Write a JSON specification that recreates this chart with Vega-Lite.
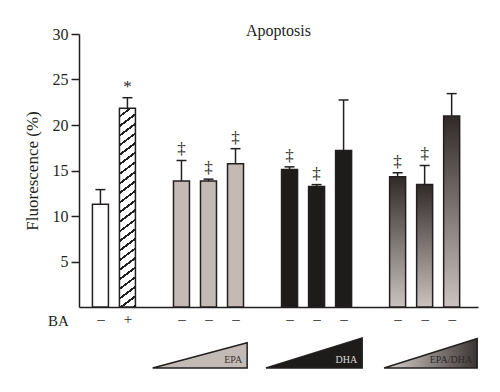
{
  "$schema": "https://vega.github.io/schema/vega-lite/v6.json",
  "background": "white",
  "padding": {"left": 23, "top": 23, "right": 5, "bottom": 5},
  "spacing": 8,
  "config": {
    "view": {"stroke": null},
    "font": "Liberation Serif",
    "axisY": {
      "tickSize": 8, "tickWidth": 1.5, "tickColor": "#231f20",
      "domainColor": "#231f20", "domainWidth": 1.5,
      "labelFontSize": 16, "labelColor": "#231f20", "labelPadding": 3,
      "titleFontSize": 17, "titleFontWeight": "normal", "titleColor": "#231f20", "titlePadding": 11,
      "grid": false
    }
  },
  "datasets": {
    "bars": [
      {"grp": "ctrl", "slot": 0, "mean": 11.3, "upper": 12.9, "sig": ""},
      {"grp": "ba", "slot": 1, "mean": 21.85, "upper": 23.0, "sig": "*"},
      {"grp": "EPA", "slot": 3, "mean": 13.85, "upper": 16.1, "sig": "‡"},
      {"grp": "EPA", "slot": 4, "mean": 13.85, "upper": 14.05, "sig": "‡"},
      {"grp": "EPA", "slot": 5, "mean": 15.75, "upper": 17.4, "sig": "‡"},
      {"grp": "DHA", "slot": 7, "mean": 15.1, "upper": 15.4, "sig": "‡"},
      {"grp": "DHA", "slot": 8, "mean": 13.25, "upper": 13.45, "sig": "‡"},
      {"grp": "DHA", "slot": 9, "mean": 17.2, "upper": 22.75, "sig": ""},
      {"grp": "EPA/DHA", "slot": 11, "mean": 14.3, "upper": 14.75, "sig": "‡"},
      {"grp": "EPA/DHA", "slot": 12, "mean": 13.45, "upper": 15.55, "sig": "‡"},
      {"grp": "EPA/DHA", "slot": 13, "mean": 21.0, "upper": 23.45, "sig": ""}
    ],
    "tri": [
      {"tri": "EPA", "x": 2.05, "h": 0},
      {"tri": "EPA", "x": 5.46, "h": 0.84},
      {"tri": "DHA", "x": 6.14, "h": 0},
      {"tri": "DHA", "x": 9.61, "h": 1},
      {"tri": "EPA/DHA", "x": 10.4, "h": 0},
      {"tri": "EPA/DHA", "x": 13.76, "h": 0.98}
    ]
  },
  "vconcat": [
    {
      "width": 399,
      "height": 273,
      "title": {"text": "Apoptosis", "fontSize": 16, "fontWeight": "normal", "color": "#231f20", "offset": -13, "frame": "group", "anchor": "middle"},
      "data": {"name": "bars"},
      "encoding": {
        "x": {
          "field": "slot", "type": "quantitative",
          "scale": {"domain": [-0.608, 13.79], "nice": false, "zero": false},
          "axis": {
            "values": [0, 1, 3, 4, 5, 7, 8, 9, 11, 12, 13],
            "labelExpr": "datum.value == 1 ? '+' : '–'",
            "ticks": false, "grid": false, "labelFlush": false, "labelOverlap": false,
            "labelFontSize": 15, "labelColor": "#231f20", "labelPadding": 4,
            "domainColor": "#231f20", "domainWidth": 1.5,
            "title": "BA", "titleAngle": 0, "titleX": -21, "titleY": 13,
            "titleAlign": "center", "titleBaseline": "middle",
            "titleFontSize": 15, "titleFontWeight": "normal", "titleColor": "#231f20"
          }
        }
      },
      "layer": [
        {
          "transform": [{"filter": "datum.grp == 'ctrl'"}],
          "mark": {"type": "bar", "size": 16, "fill": "#ffffff", "stroke": "#231f20", "strokeWidth": 1.5},
          "encoding": {"y": {"field": "mean", "type": "quantitative", "title": "Fluorescence (%)", "scale": {"domain": [0, 30], "nice": false}, "axis": {"values": [5, 10, 15, 20, 25, 30]}}}
        },
        {
          "transform": [{"filter": "datum.grp == 'ba'"}],
          "mark": {"type": "bar", "size": 16, "stroke": "#231f20", "strokeWidth": 1.5,
            "fill": {"gradient": "linear", "x1": 0, "y1": 0, "x2": 0.0637, "y2": 1.0565, "stops": [
              {"offset": 0, "color": "#ffffff"}, {"offset": 0.03409, "color": "#ffffff"}, {"offset": 0.03409, "color": "#231f20"}, {"offset": 0.04545, "color": "#231f20"},
              {"offset": 0.04545, "color": "#ffffff"}, {"offset": 0.07955, "color": "#ffffff"}, {"offset": 0.07955, "color": "#231f20"}, {"offset": 0.09091, "color": "#231f20"},
              {"offset": 0.09091, "color": "#ffffff"}, {"offset": 0.125, "color": "#ffffff"}, {"offset": 0.125, "color": "#231f20"}, {"offset": 0.13636, "color": "#231f20"},
              {"offset": 0.13636, "color": "#ffffff"}, {"offset": 0.17045, "color": "#ffffff"}, {"offset": 0.17045, "color": "#231f20"}, {"offset": 0.18182, "color": "#231f20"},
              {"offset": 0.18182, "color": "#ffffff"}, {"offset": 0.21591, "color": "#ffffff"}, {"offset": 0.21591, "color": "#231f20"}, {"offset": 0.22727, "color": "#231f20"},
              {"offset": 0.22727, "color": "#ffffff"}, {"offset": 0.26136, "color": "#ffffff"}, {"offset": 0.26136, "color": "#231f20"}, {"offset": 0.27273, "color": "#231f20"},
              {"offset": 0.27273, "color": "#ffffff"}, {"offset": 0.30682, "color": "#ffffff"}, {"offset": 0.30682, "color": "#231f20"}, {"offset": 0.31818, "color": "#231f20"},
              {"offset": 0.31818, "color": "#ffffff"}, {"offset": 0.35227, "color": "#ffffff"}, {"offset": 0.35227, "color": "#231f20"}, {"offset": 0.36364, "color": "#231f20"},
              {"offset": 0.36364, "color": "#ffffff"}, {"offset": 0.39773, "color": "#ffffff"}, {"offset": 0.39773, "color": "#231f20"}, {"offset": 0.40909, "color": "#231f20"},
              {"offset": 0.40909, "color": "#ffffff"}, {"offset": 0.44318, "color": "#ffffff"}, {"offset": 0.44318, "color": "#231f20"}, {"offset": 0.45455, "color": "#231f20"},
              {"offset": 0.45455, "color": "#ffffff"}, {"offset": 0.48864, "color": "#ffffff"}, {"offset": 0.48864, "color": "#231f20"}, {"offset": 0.5, "color": "#231f20"},
              {"offset": 0.5, "color": "#ffffff"}, {"offset": 0.53409, "color": "#ffffff"}, {"offset": 0.53409, "color": "#231f20"}, {"offset": 0.54545, "color": "#231f20"},
              {"offset": 0.54545, "color": "#ffffff"}, {"offset": 0.57955, "color": "#ffffff"}, {"offset": 0.57955, "color": "#231f20"}, {"offset": 0.59091, "color": "#231f20"},
              {"offset": 0.59091, "color": "#ffffff"}, {"offset": 0.625, "color": "#ffffff"}, {"offset": 0.625, "color": "#231f20"}, {"offset": 0.63636, "color": "#231f20"},
              {"offset": 0.63636, "color": "#ffffff"}, {"offset": 0.67045, "color": "#ffffff"}, {"offset": 0.67045, "color": "#231f20"}, {"offset": 0.68182, "color": "#231f20"},
              {"offset": 0.68182, "color": "#ffffff"}, {"offset": 0.71591, "color": "#ffffff"}, {"offset": 0.71591, "color": "#231f20"}, {"offset": 0.72727, "color": "#231f20"},
              {"offset": 0.72727, "color": "#ffffff"}, {"offset": 0.76136, "color": "#ffffff"}, {"offset": 0.76136, "color": "#231f20"}, {"offset": 0.77273, "color": "#231f20"},
              {"offset": 0.77273, "color": "#ffffff"}, {"offset": 0.80682, "color": "#ffffff"}, {"offset": 0.80682, "color": "#231f20"}, {"offset": 0.81818, "color": "#231f20"},
              {"offset": 0.81818, "color": "#ffffff"}, {"offset": 0.85227, "color": "#ffffff"}, {"offset": 0.85227, "color": "#231f20"}, {"offset": 0.86364, "color": "#231f20"},
              {"offset": 0.86364, "color": "#ffffff"}, {"offset": 0.89773, "color": "#ffffff"}, {"offset": 0.89773, "color": "#231f20"}, {"offset": 0.90909, "color": "#231f20"},
              {"offset": 0.90909, "color": "#ffffff"}, {"offset": 0.94318, "color": "#ffffff"}, {"offset": 0.94318, "color": "#231f20"}, {"offset": 0.95455, "color": "#231f20"},
              {"offset": 0.95455, "color": "#ffffff"}, {"offset": 0.98864, "color": "#ffffff"}, {"offset": 0.98864, "color": "#231f20"}, {"offset": 1, "color": "#231f20"}
            ]}},
          "encoding": {"y": {"field": "mean", "type": "quantitative", "title": "Fluorescence (%)", "scale": {"domain": [0, 30], "nice": false}}}
        },
        {
          "transform": [{"filter": "datum.grp == 'EPA'"}],
          "mark": {"type": "bar", "size": 16, "fill": "#c3bab5", "stroke": "#231f20", "strokeWidth": 1.5},
          "encoding": {"y": {"field": "mean", "type": "quantitative", "title": "Fluorescence (%)", "scale": {"domain": [0, 30], "nice": false}}}
        },
        {
          "transform": [{"filter": "datum.grp == 'DHA'"}],
          "mark": {"type": "bar", "size": 16, "fill": "#1e1c1b", "stroke": "#231f20", "strokeWidth": 1.5},
          "encoding": {"y": {"field": "mean", "type": "quantitative", "title": "Fluorescence (%)", "scale": {"domain": [0, 30], "nice": false}}}
        },
        {
          "transform": [{"filter": "datum.grp == 'EPA/DHA'"}],
          "mark": {"type": "bar", "size": 16, "stroke": "#231f20", "strokeWidth": 1.5,
            "fill": {"gradient": "linear", "x1": 0, "y1": 0, "x2": 0, "y2": 1, "stops": [
              {"offset": 0, "color": "#302a29"}, {"offset": 1, "color": "#cbc3bf"}
            ]}},
          "encoding": {"y": {"field": "mean", "type": "quantitative", "title": "Fluorescence (%)", "scale": {"domain": [0, 30], "nice": false}}}
        },
        {
          "mark": {"type": "rule", "stroke": "#231f20", "strokeWidth": 1.5},
          "encoding": {
            "y": {"field": "mean", "type": "quantitative", "title": "Fluorescence (%)", "scale": {"domain": [0, 30], "nice": false}},
            "y2": {"field": "upper"}
          }
        },
        {
          "mark": {"type": "tick", "orient": "horizontal", "size": 10, "thickness": 1.5, "color": "#231f20", "opacity": 1},
          "encoding": {"y": {"field": "upper", "type": "quantitative", "title": "Fluorescence (%)", "scale": {"domain": [0, 30], "nice": false}}}
        },
        {
          "mark": {"type": "text", "fontSize": 17, "fill": "#231f20", "dy": -11, "baseline": "middle", "align": "center"},
          "encoding": {
            "y": {"field": "upper", "type": "quantitative", "title": "Fluorescence (%)", "scale": {"domain": [0, 30], "nice": false}},
            "text": {"field": "sig"}
          }
        }
      ]
    },
    {
      "width": 399,
      "height": 30,
      "data": {"name": "tri"},
      "encoding": {
        "x": {"field": "x", "type": "quantitative", "scale": {"domain": [-0.608, 13.79], "nice": false, "zero": false}, "axis": null}
      },
      "layer": [
        {
          "transform": [{"filter": "datum.tri == 'EPA'"}],
          "mark": {"type": "area", "fill": "#c3bab5", "stroke": "#231f20", "strokeWidth": 1.5, "strokeJoin": "miter", "strokeMiterLimit": 2},
          "encoding": {"y": {"field": "h", "type": "quantitative", "scale": {"domain": [0, 1], "nice": false}, "axis": null}}
        },
        {
          "transform": [{"filter": "datum.tri == 'DHA'"}],
          "mark": {"type": "area", "fill": "#1e1c1b", "stroke": "#231f20", "strokeWidth": 1.5, "strokeJoin": "miter", "strokeMiterLimit": 2},
          "encoding": {"y": {"field": "h", "type": "quantitative", "scale": {"domain": [0, 1], "nice": false}, "axis": null}}
        },
        {
          "transform": [{"filter": "datum.tri == 'EPA/DHA'"}],
          "mark": {"type": "area", "stroke": "#231f20", "strokeWidth": 1.5, "strokeJoin": "miter", "strokeMiterLimit": 2,
            "fill": {"gradient": "linear", "x1": 0, "y1": 0, "x2": 1, "y2": 0, "stops": [
              {"offset": 0, "color": "#dcd5d1"}, {"offset": 1, "color": "#3b3534"}
            ]}},
          "encoding": {"y": {"field": "h", "type": "quantitative", "scale": {"domain": [0, 1], "nice": false}, "axis": null}}
        },
        {
          "transform": [{"filter": "datum.h > 0"}],
          "mark": {"type": "text", "fontSize": 10, "align": "right", "baseline": "alphabetic", "dx": -5, "dy": -5},
          "encoding": {
            "y": {"datum": 0, "type": "quantitative", "scale": {"domain": [0, 1], "nice": false}, "axis": null},
            "text": {"field": "tri"},
            "color": {"field": "tri", "type": "nominal", "scale": {"domain": ["EPA", "DHA", "EPA/DHA"], "range": ["#3a3432", "#d8d8d8", "#2e2928"]}, "legend": null}
          }
        }
      ]
    }
  ]
}
